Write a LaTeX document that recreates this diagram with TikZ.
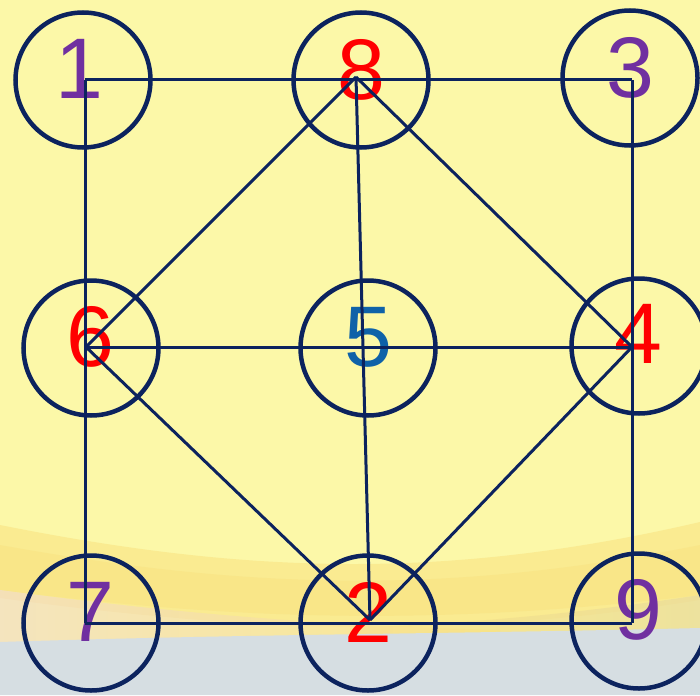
\documentclass[tikz,border=0pt]{standalone}
\usepackage{fontspec}
\setmainfont{Liberation Sans}
\definecolor{bgyellow}{HTML}{FCF8A8}
\definecolor{bandyellow}{HTML}{F9E383}
\definecolor{tan}{HTML}{EADD9C}
\definecolor{pinkish}{HTML}{F2DCC8}
\definecolor{bluegray}{HTML}{D6DEE2}
\definecolor{navy}{HTML}{0C235E}
\definecolor{dpurple}{HTML}{7030A0}
\definecolor{dred}{HTML}{FF0000}
\definecolor{dblue}{HTML}{0F62A8}
\begin{document}
\begin{tikzpicture}[x=1pt,y=-1pt,
  ring/.style={circle,draw=navy,line width=4.5pt,minimum size=135pt,inner sep=0pt},
  digit/.style={inner sep=0pt,font=\fontsize{86}{86}\selectfont},
  link/.style={draw=navy,line width=3pt}]
\useasboundingbox (0,0) rectangle (700,695);
% background
\fill[bgyellow] (0,0) rectangle (700,695);
\fill[bandyellow,opacity=0.6] (0,525) .. controls (250,575) and (450,580) .. (700,522)
  -- (700,600) .. controls (450,640) and (250,632) .. (0,598) -- cycle;
\fill[bandyellow,opacity=0.6] (0,545) .. controls (250,590) and (450,595) .. (700,545)
  -- (700,595) .. controls (450,625) and (250,622) .. (0,590) -- cycle;
\shade[left color=bandyellow,right color=tan,opacity=0.8] (350,628) .. controls (500,622) and (600,610) .. (700,595)
  -- (700,630) -- (350,636) -- cycle;
\shade[left color=pinkish,right color=bandyellow,opacity=0.7] (0,590) .. controls (150,610) and (300,625) .. (500,630)
  -- (500,640) -- (0,642) -- cycle;
\fill[bluegray] (0,642) .. controls (250,634) and (450,634) .. (700,628) -- (700,695) -- (0,695) -- cycle;
% digits
\node[digit,text=dpurple] (d1) at (79,69) {1};
\node[digit,text=dred] (d8) at (361,70) {8};
\node[digit,text=dpurple] (d3) at (630,68) {3};
\node[digit,text=dred] (d6) at (90,337) {6};
\node[digit,text=dblue] (d5) at (368,337) {5};
\node[digit,text=dred] (d4) at (638,334) {4};
\node[digit,text=dpurple] (d7) at (90,612) {7};
\node[digit,text=dred] (d2) at (368,612) {2};
\node[digit,text=dpurple] (d9) at (638,610) {9};
% rings
\node[ring] (c1) at (83,80) {};
\node[ring] (c8) at (361,80) {};
\node[ring] (c3) at (630,78) {};
\node[ring] (c6) at (91,348) {};
\node[ring] (c5) at (368,348) {};
\node[ring] (c4) at (639,346) {};
\node[ring] (c7) at (91,623) {};
\node[ring] (c2) at (368,623) {};
\node[ring] (c9) at (639,621) {};
% connector end points
\coordinate (p1) at (85,80);
\coordinate (p8) at (356,77);
\coordinate (p3) at (632,80);
\coordinate (p6) at (86,347);
\coordinate (p4) at (632,347);
\coordinate (p7) at (85,623);
\coordinate (p2) at (370,620);
\coordinate (p9) at (632,623);
% connectors
\draw[link] (p1) -- (p3);
\draw[link] (p6) -- (p4);
\draw[link] (p7) -- (p9);
\draw[link] (p1) -- (p7);
\draw[link] (p3) -- (p9);
\draw[link] (p8) -- (p2);
\draw[link] (p8) -- (p6);
\draw[link] (p8) -- (p4);
\draw[link] (p6) -- (p2);
\draw[link] (p4) -- (p2);
\end{tikzpicture}
\end{document}
